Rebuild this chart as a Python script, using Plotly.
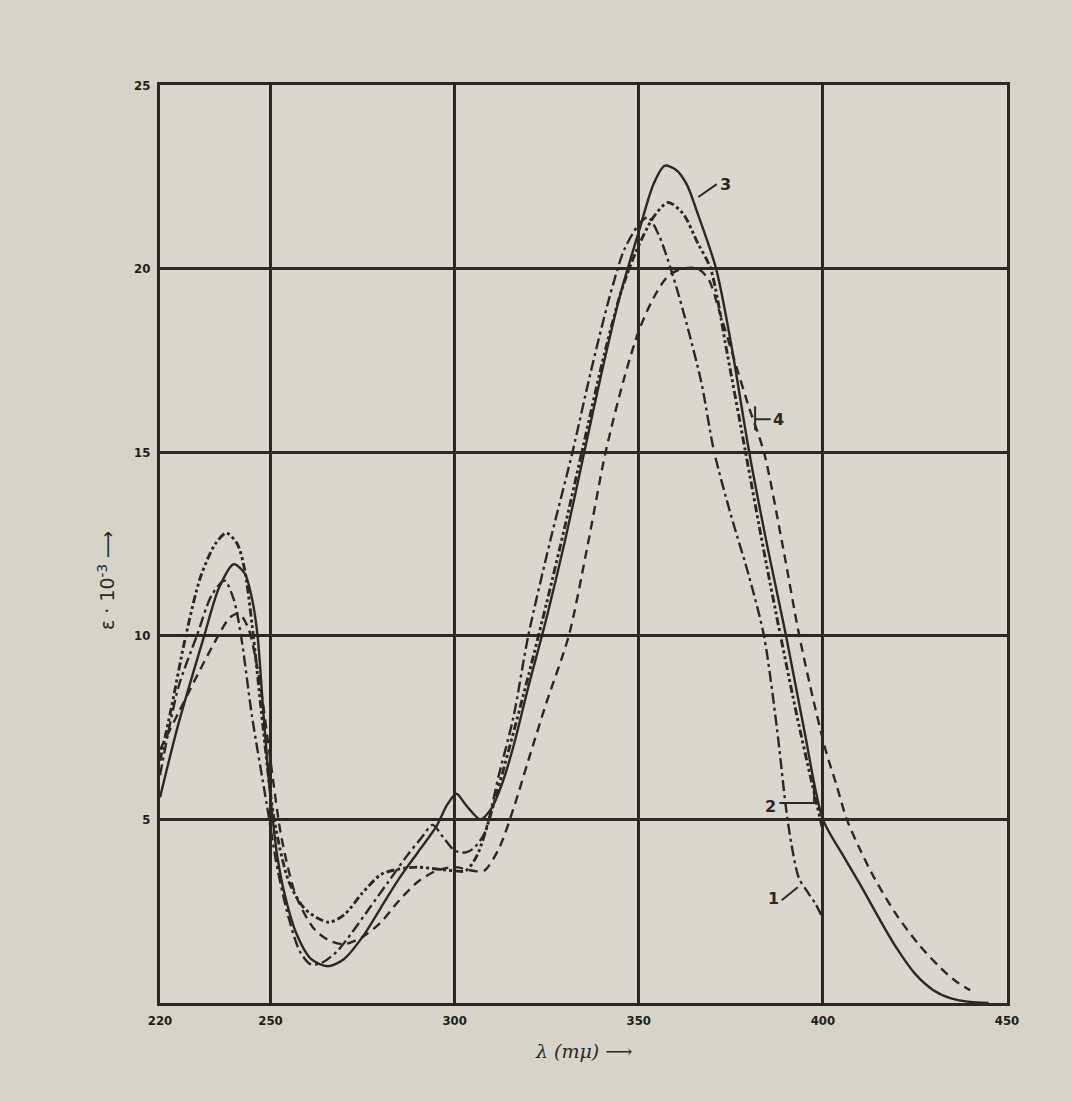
import plotly.graph_objects as go

# ---- data ----
x_ticks = [220, 250, 300, 350, 400, 450]
x_tick_labels = ["220", "250", "300", "350", "400", "450"]
y_ticks = [5, 10, 15, 20, 25]
y_tick_labels = ["5", "10", "15", "20", "25"]

# curve 1 (dash-dot)
x1 = [220, 225, 230, 234, 237.5, 240, 242, 245, 249, 252, 255, 258, 261, 264, 268, 272, 277, 282,
      287, 291, 294, 297, 300, 303, 305, 308, 312, 316, 320, 326, 332, 337, 342, 346, 350, 352.5,
      355.5, 359, 363, 367, 370.5, 375, 380, 384, 387.5, 390, 391.5, 393.5, 396, 398, 400]
y1 = [6.2, 8.6, 10.0, 11.1, 11.5, 11.0, 10.0, 7.8, 5.4, 3.6, 2.3, 1.4, 1.05, 1.1, 1.4, 1.9, 2.6, 3.3,
      4.0, 4.5, 4.85, 4.5, 4.15, 4.1, 4.2, 4.6, 6.2, 7.8, 10.0, 12.6, 15.0, 17.2, 19.2, 20.5, 21.2, 21.4,
      20.9, 19.9, 18.5, 16.9, 15.0, 13.3, 11.6, 10.0, 7.5, 5.3, 4.3, 3.4, 3.0, 2.7, 2.3]

# curve 2 (dash-dot-dot)
x2 = [220, 223, 227, 231, 235, 238, 241, 243, 245, 248, 251, 255, 259, 263, 266, 270, 275, 280, 285,
      290, 295, 300, 303, 306, 310, 315, 320, 325, 330, 335, 340, 345, 349, 354, 358, 362, 366, 369.5,
      374, 379, 384, 388.5, 393, 397, 400]
y2 = [6.6, 8.0, 10.0, 11.6, 12.5, 12.8, 12.5, 11.8, 10.3, 7.5, 5.0, 3.3, 2.6, 2.3, 2.2, 2.4, 3.0, 3.5, 3.65,
      3.7, 3.65, 3.6, 3.6, 4.0, 5.2, 7.0, 8.9, 10.9, 13.0, 15.2, 17.4, 19.3, 20.4, 21.4, 21.8, 21.5, 20.7, 20.0,
      17.7, 15.0, 12.3, 10.0, 7.8, 6.0, 4.7]

# curve 3 (solid)
x3 = [220, 225, 232, 236, 240, 243, 245, 246.5, 248, 250, 252, 254, 257, 261, 265.5, 270, 275, 280, 285,
      290, 295, 298, 300.5, 303, 307, 310, 313, 316, 320, 325, 330, 335, 340, 345, 350, 354, 357, 360,
      363, 366, 371, 375, 380, 385, 390, 395, 400, 405, 410, 415, 420, 425, 430, 435, 440, 445]
y3 = [5.6, 7.6, 10.0, 11.3, 11.95, 11.7, 11.0, 10.0, 8.0, 5.6, 3.9, 2.9, 1.9, 1.2, 1.0, 1.2, 1.8, 2.6, 3.4,
      4.1, 4.8, 5.4, 5.7, 5.4, 5.0, 5.3, 6.0, 7.0, 8.6, 10.5, 12.6, 14.9, 17.2, 19.3, 21.0, 22.3, 22.8, 22.7,
      22.3, 21.5, 20.0, 18.0, 15.0, 12.4, 10.0, 7.4, 5.0, 4.1, 3.25, 2.35, 1.5, 0.8, 0.35, 0.12, 0.03, 0.0]

# curve 4 (dashed)
x4 = [220, 225, 230, 235.8, 239, 241.5, 244, 247, 250, 253, 257, 262, 266, 270, 275, 280, 285, 290, 295,
      300, 305, 308, 312, 316, 320, 325, 331, 336, 341, 346, 350, 354, 358, 362, 366, 369, 372, 376, 380,
      384, 389, 393.6, 398, 401, 403.5, 406.5, 410, 414, 420, 426, 432, 436, 440]
y4 = [6.9, 7.9, 8.9, 10.0, 10.5, 10.6, 10.2, 8.8, 6.6, 4.5, 2.9, 2.0, 1.7, 1.6, 1.8, 2.2, 2.8, 3.3, 3.6,
      3.7, 3.6, 3.6, 4.2, 5.3, 6.6, 8.2, 10.0, 12.4, 15.0, 17.0, 18.3, 19.2, 19.8, 20.0, 20.0, 19.7, 18.8, 17.5, 16.2,
      15.0, 12.5, 10.0, 8.0, 6.8, 6.0, 5.0, 4.2, 3.4, 2.4, 1.6, 0.95, 0.6, 0.35]

curve_names = ["1", "2", "3", "4"]
# curve-number labels (data units) and which side the text sits of its anchor
label_x = [388.5, 387.8, 371.6, 386.0]
label_y = [2.85, 5.35, 22.3, 15.9]
label_anchor = ["right", "right", "left", "left"]
# leader polylines (data units)
leader_xs = [[388.8, 393.2], [388.2, 397.6, 397.6], [366.2, 371.2], [381.6, 381.6, 381.6, 385.8]]
leader_ys = [[2.8, 3.15], [5.45, 5.45, 6.05], [21.95, 22.3], [15.6, 16.25, 15.9, 15.9]]

INK = "#2a2925"
series = [
    (x1, y1, dict(color=INK, width=2.4, dash="11px,4px,3px,4px")),
    (x2, y2, dict(color=INK, width=2.9, dash="8px,3px,3px,3px,3px,3px")),
    (x3, y3, dict(color=INK, width=2.4)),
    (x4, y4, dict(color=INK, width=2.4, dash="9px,6px")),
]

fig = go.Figure()
for (xs, ys, ln), name in zip(series, curve_names):
    fig.add_trace(go.Scatter(x=xs, y=ys, mode="lines", name=name,
                             line=dict(shape="spline", smoothing=0.8, **ln),
                             showlegend=False, hoverinfo="skip"))

for lxs, lys in zip(leader_xs, leader_ys):
    fig.add_trace(go.Scatter(x=lxs, y=lys, mode="lines", line=dict(color=INK, width=2),
                             showlegend=False, hoverinfo="skip"))

for name, tx, ty, anc in zip(curve_names, label_x, label_y, label_anchor):
    fig.add_annotation(x=tx, y=ty, xref="x", yref="y", text="<b>" + name + "</b>", showarrow=False,
                       xanchor=anc, font=dict(family="DejaVu Sans", size=16, color=INK))

tick_font = dict(family="DejaVu Sans Condensed, DejaVu Sans", size=13, color="#1f1e1b", weight="bold")

fig.update_xaxes(range=[220, 450], tickvals=x_ticks, ticktext=x_tick_labels,
                 showgrid=True, gridcolor=INK, gridwidth=2.6,
                 showline=True, linecolor=INK, linewidth=3, mirror=True,
                 ticks="", tickfont=tick_font, zeroline=False, ticklabelstandoff=3)
fig.update_yaxes(range=[0, 25], tickvals=y_ticks, ticktext=y_tick_labels,
                 showgrid=True, gridcolor=INK, gridwidth=2.6,
                 showline=True, linecolor=INK, linewidth=3, mirror=True,
                 ticks="", tickfont=tick_font, zeroline=False, ticklabelstandoff=4)

fig.add_annotation(xref="paper", yref="paper", x=0.5, y=-0.038, yanchor="top",
                   text="<i>λ (mμ)</i> ⟶", showarrow=False,
                   font=dict(family="DejaVu Serif", size=19, color=INK))
fig.add_annotation(xref="paper", yref="paper", x=-0.08, y=0.46, textangle=-90,
                   text="ε · 10<sup>-3</sup> ⟶", showarrow=False,
                   font=dict(family="DejaVu Sans", size=19, color=INK))

fig.update_layout(width=1071, height=1101,
                  margin=dict(l=160, r=64, t=85, b=98),
                  paper_bgcolor="#d6d3c8", plot_bgcolor="#dad8ce",
                  showlegend=False)

fig.write_html("out.html", config={"displayModeBar": False},
               post_script="document.body.style.margin='0';document.body.style.background='#d6d3c8';")
